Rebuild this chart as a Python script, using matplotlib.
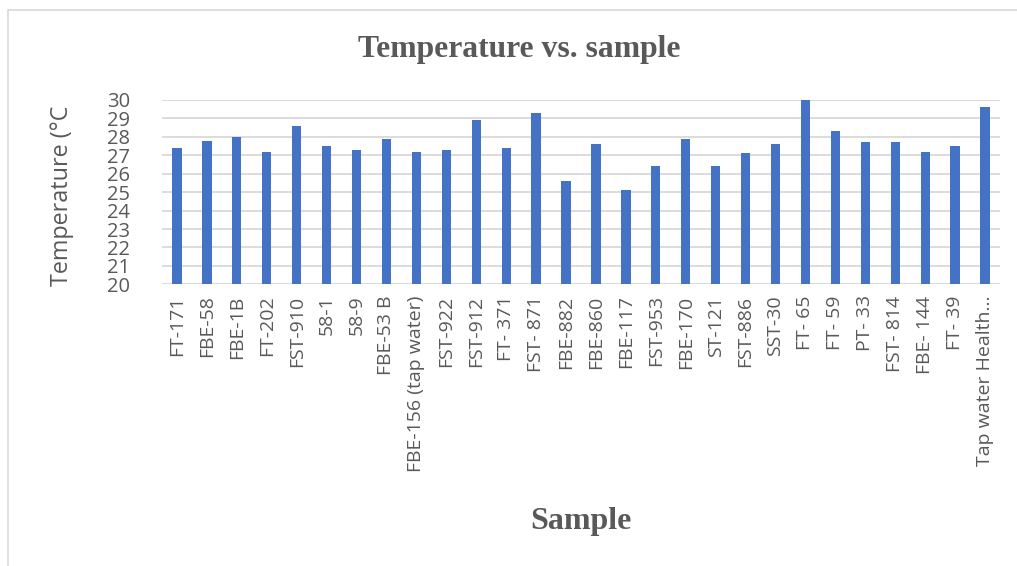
import numpy as np
import matplotlib.pyplot as plt
from matplotlib.patches import Rectangle

# 样本名称与温度 (°C)
samples = ['FT-171', 'FBE-58', 'FBE-1B', 'FT-202', 'FST-910', '58-1', '58-9',
           'FBE-53 B', 'FBE-156 (tap water)', 'FST-922', 'FST-912', 'FT- 371',
           'FST- 871', 'FBE-882', 'FBE-860', 'FBE-117', 'FST-953', 'FBE-170',
           'ST-121', 'FST-886', 'SST-30', 'FT- 65', 'FT- 59', 'PT- 33',
           'FST- 814', 'FBE- 144', 'FT- 39', 'Tap water Health\u2026']
temps = [27.4, 27.8, 28.0, 27.2, 28.6, 27.5, 27.3, 27.9, 27.2, 27.3, 28.9, 27.4,
         29.3, 25.6, 27.6, 25.1, 26.4, 27.9, 26.4, 27.1, 27.6, 30.0, 28.3, 27.7,
         27.7, 27.2, 27.5, 29.6]
yticks = list(range(20, 31))

gray = '#595959'
sans = ['Open Sans', 'DejaVu Sans']
serif = 'Liberation Serif'

fig = plt.figure(figsize=(10.17, 5.66), dpi=100)
# 图表外框
fig.patches.append(Rectangle((8 / 1017, -0.1), 1.2, 1 - 10 / 566 + 0.1,
                             transform=fig.transFigure, fill=False,
                             edgecolor='#d9d9d9', linewidth=1.2))

ax = fig.add_axes([162 / 1017, 1 - 284.3 / 566, (1000 - 162) / 1017, (284.3 - 100) / 566])
x = np.arange(len(samples))
ax.bar(x, [t - 20 for t in temps], bottom=20, width=0.31, color='#4472C4', zorder=3)
ax.set_xlim(-0.5, len(samples) - 0.5)
ax.set_ylim(20, 30)
ax.set_yticks(yticks)
ax.set_yticklabels([str(v) for v in yticks], fontsize=14.5, color=gray, family=sans)
ax.set_xticks(x)
ax.set_xticklabels(samples, rotation=90, fontsize=14, color=gray, family=sans)
ax.tick_params(axis='both', length=0)
ax.tick_params(axis='y', pad=23)
ax.tick_params(axis='x', pad=8)
for s in ax.spines.values():
    s.set_visible(False)
ax.grid(axis='y', color='#d9d9d9', linewidth=1.3, zorder=0)

fig.text(519 / 1017, 1 - 50 / 566, 'Temperature vs. sample', ha='center', va='center',
         fontsize=22.8, fontweight='bold', color=gray, family=serif)
fig.text(581 / 1017, 1 - 522 / 566, 'Sample', ha='center', va='center',
         fontsize=23, fontweight='bold', color=gray, family=serif)
fig.text(62 / 1017, 1 - 196 / 566, 'Temperature (\u00b0C', ha='center', va='center',
         rotation=90, fontsize=16.8, color=gray, family=sans)

fig.savefig('out.png', dpi=100)
